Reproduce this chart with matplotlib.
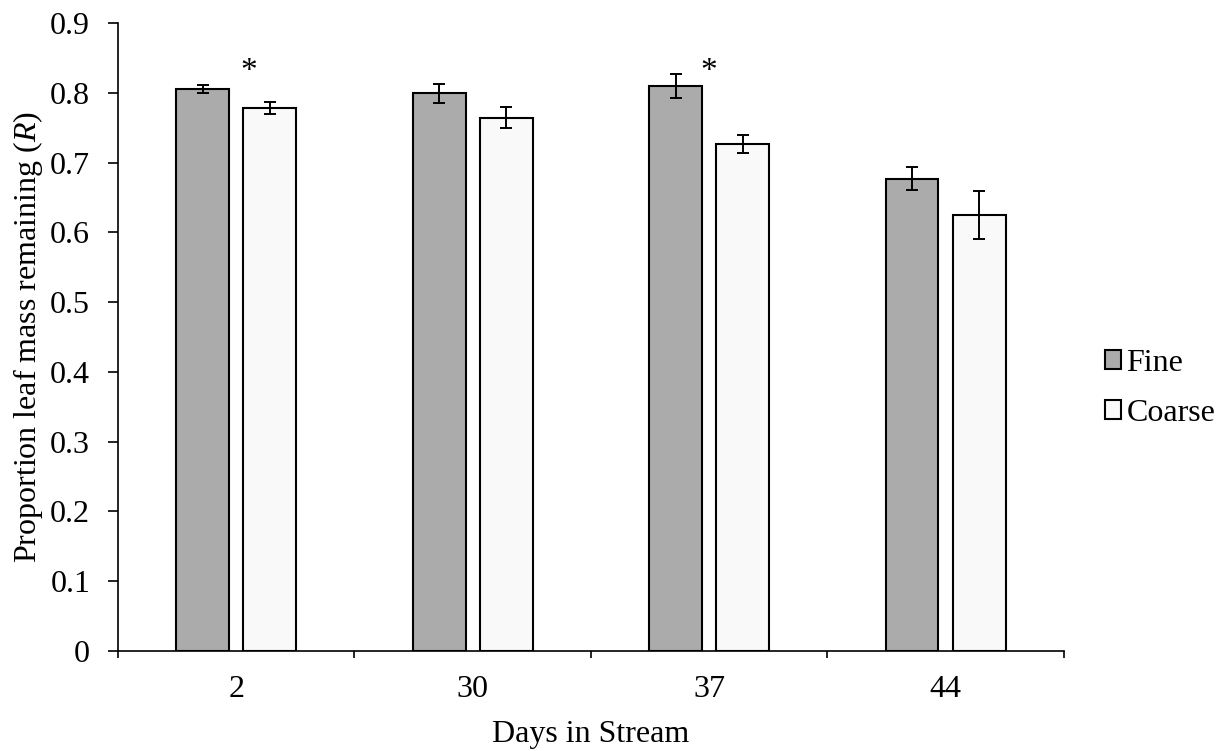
import numpy as np
import matplotlib.pyplot as plt

plt.rcParams['font.family'] = ['Liberation Serif', 'DejaVu Serif']
plt.rcParams['mathtext.fontset'] = 'custom'
plt.rcParams['mathtext.it'] = 'Liberation Serif:italic'
plt.rcParams['mathtext.rm'] = 'Liberation Serif'

# data
days = ['2', '30', '37', '44']
fine = [0.805, 0.799, 0.810, 0.677]
fine_err = [0.006, 0.0135, 0.0175, 0.017]
coarse = [0.778, 0.764, 0.726, 0.625]
coarse_err = [0.0085, 0.015, 0.013, 0.034]
star_idx = [0, 2]          # days with a significant difference
star_off = [0.055, 0.0]

fig = plt.figure(figsize=(12.3, 7.51), dpi=100)
ax = fig.add_axes([0.0959, 0.1332, 0.769, 0.8362])

x = np.arange(len(days))
w = 0.224
off = 0.142
ax.bar(x - off, fine, w, color='#ABABAB', edgecolor='black', linewidth=1.5, label='Fine', zorder=2)
ax.bar(x + off, coarse, w, color='#F9F9F9', edgecolor='black', linewidth=1.5, label='Coarse', zorder=2)
ax.errorbar(x - off, fine, yerr=fine_err, fmt='none', ecolor='black', elinewidth=1.4, capsize=4.3, capthick=1.4, zorder=3)
ax.errorbar(x + off, coarse, yerr=coarse_err, fmt='none', ecolor='black', elinewidth=1.4, capsize=4.3, capthick=1.4, zorder=3)

for i, o in zip(star_idx, star_off):
    ax.text(x[i] + o, 0.818, '*', ha='center', va='baseline', fontsize=24)

ax.set_xlim(-0.5, len(days) - 0.5)
ax.set_ylim(0, 0.9)
ax.set_yticks(np.arange(0, 0.91, 0.1))
ax.set_yticklabels(['0'] + ['%.1f' % v for v in np.arange(0.1, 0.91, 0.1)])
ax.set_xticks(x)
ax.set_xticklabels(days)
ax.set_xticks(np.arange(-0.5, len(days), 1), minor=True)
ax.tick_params(axis='x', which='major', length=0, labelsize=23, pad=17)
ax.tick_params(axis='x', which='minor', length=5, width=1.2, direction='out')
ax.tick_params(axis='y', length=7, width=1.2, labelsize=23, pad=13)

for s in ['top', 'right']:
    ax.spines[s].set_visible(False)
ax.spines['left'].set_linewidth(1.2)
ax.spines['bottom'].set_linewidth(1.2)

ax.set_xlabel('Days in Stream', fontsize=23, labelpad=12)
ax.set_ylabel('Proportion leaf mass remaining ($\\it{R}$)', fontsize=23, labelpad=4)

fig.legend(loc='center left', bbox_to_anchor=(0.898, 0.483), frameon=False, fontsize=23,
           handlelength=0.53, handleheight=0.53, handletextpad=0.15, labelspacing=0.65,
           borderpad=0, borderaxespad=0)

fig.savefig('out.png', dpi=100)
